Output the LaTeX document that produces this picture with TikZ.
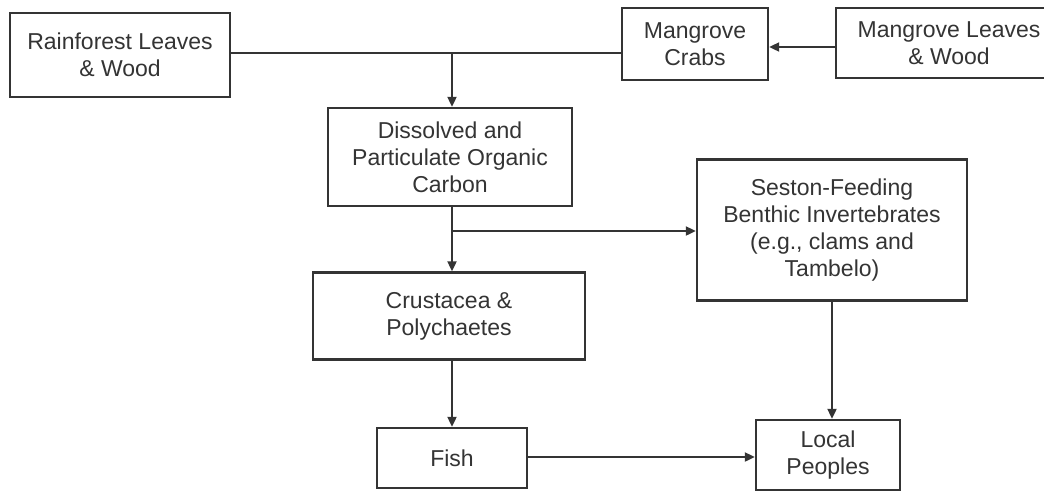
\documentclass[tikz,border=0pt]{standalone}
\usepackage{fontspec}
\setmainfont{Liberation Sans}
\usepackage{xcolor}
\usepackage{tikz}
\usetikzlibrary{positioning,arrows.meta}
\definecolor{Ink}{RGB}{52, 52, 52}
\definecolor{Paper}{RGB}{255, 255, 255}

\begin{document}
\begin{tikzpicture}[
    x=1pt, y=-1pt,
    box/.style={rectangle, draw=Ink, fill=Paper, line width=2.4pt, align=center, text=Ink,
                font=\fontsize{23}{27}\selectfont, inner sep=0pt},
    arr/.style={-{Triangle[length=10pt, width=9pt]}, line width=2.1pt, Ink},
    link/.style={line width=2.1pt, Ink},
]
\useasboundingbox (0,0) rectangle (1044,491);

\node[box, minimum width=220pt, minimum height=84pt] (rain) at (120,55) {Rainforest Leaves\\ \& Wood};
\node[box, minimum width=146pt, minimum height=72pt] (crabs) at (695,44) {Mangrove\\ Crabs};
\node[box, minimum width=226pt, minimum height=70pt] (leaves) at (949,43) {Mangrove Leaves\\ \& Wood};
\node[box, minimum width=244pt, minimum height=98pt] (doc) at (450,157) {Dissolved and\\ Particulate Organic\\ Carbon};
\node[box, minimum width=270pt, minimum height=141pt] (seston) at (832,230) {Seston-Feeding\\ Benthic Invertebrates\\ (e.g., clams and\\ Tambelo)};
\node[box, minimum width=272pt, minimum height=87pt] (crust) at (449,316) {Crustacea \&\\ Polychaetes};
\node[box, minimum width=150pt, minimum height=60pt] (fish) at (452,458) {Fish};
\node[box, minimum width=144pt, minimum height=70pt] (people) at (828,455) {Local\\ Peoples};

% carbon inputs
\coordinate (join) at (452,53);
\coordinate (split) at (452,231);
\draw[link] (rain.east |- join) -- (crabs.west |- join);
\draw[arr] (leaves.west |- 0,47) -- (crabs.east |- 0,47);
\draw[arr] (join) -- (join |- doc.north);

% food web
\draw[arr] (split |- doc.south) -- (split |- crust.north);
\draw[arr] (split) -- (seston.west |- split);
\draw[arr] (split |- crust.south) -- (split |- fish.north);
\draw[arr] (fish.east |- 0,457) -- (people.west |- 0,457);
\draw[arr] (seston.south) -- (seston.south |- people.north);
\end{tikzpicture}
\end{document}
